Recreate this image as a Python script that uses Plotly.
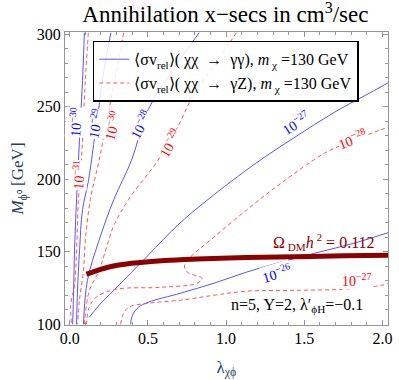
import plotly.graph_objects as go

# contour lines: lambda_chi_phi (x) and M_phi0 in GeV (y)
gg30_x = [0.094, 0.082, 0.069, 0.056, 0.044, 0.031, 0.025, 0.019]
gg30_y = [301, 268, 241, 213, 186, 151, 123, 100]
gg29_x = [0.263, 0.219, 0.176, 0.157, 0.120, 0.082, 0.063, 0.050, 0.044]
gg29_y = [301, 275, 241, 227, 199, 179, 151, 123, 100]
gg28_x = [0.828, 0.658, 0.502, 0.395, 0.282, 0.188, 0.113, 0.088]
gg28_y = [301, 275, 248, 213, 186, 158, 130, 100]
gg27_x = [0.125, 0.188, 0.282, 0.502, 0.690, 0.878, 1.190, 1.440, 1.690, 1.944, 2.06]
gg27_y = [104.8, 113.1, 123.4, 147.6, 168.3, 185.5, 211.0, 229.0, 246.0, 261.0, 268.0]
gg26_x = [0.389, 0.401, 0.439, 0.502, 0.708, 0.922, 1.129, 1.348, 1.567, 1.818, 2.06]
gg26_y = [100, 106.2, 111.7, 115.2, 121.4, 128.3, 135.9, 142.8, 149.0, 155.9, 164.0]

gz31_x = [0.119, 0.100, 0.075, 0.056, 0.044, 0.031, 0.006, 0.013]
gz31_y = [301, 268, 213, 186, 151, 127, 113, 100]
gz30_x = [0.345, 0.295, 0.238, 0.188, 0.132, 0.100, 0.088, 0.063, 0.050]
gz30_y = [301, 272, 241, 213, 186, 158, 137, 117, 100]
gz29_x = [1.066, 0.940, 0.796, 0.690, 0.564, 0.376, 0.282, 0.238, 0.188, 0.125, 0.094]
gz29_y = [301, 281, 259, 236, 213, 186, 168, 154, 137, 123, 100]
gz28_x = [2.06, 1.987, 1.787, 1.630, 1.317, 1.129, 0.897, 0.771, 0.734, 0.752, 0.846,
          0.815, 0.583, 0.295, 0.169, 0.125, 0.107]
gz28_y = [236.5, 234.0, 225.5, 218.0, 194.5, 178.6, 157.9, 146.2, 140.7, 135.9, 131.7,
          128.3, 125.5, 124.1, 118.6, 111.7, 100]
gz27_x = [0.326, 0.339, 0.376, 0.502, 0.708, 0.922, 1.129, 1.442, 1.755, 1.912, 2.06]
gz27_y = [100, 106.2, 111.7, 114.5, 116.6, 120.0, 122.8, 123.4, 124.1, 125.5, 128.3]

# relic density line Omega_DM h^2 = 0.112
relic_x = [0.107, 0.188, 0.251, 0.395, 0.608, 0.815, 1.129, 1.442, 1.755, 2.06]
relic_y = [134.5, 137.5, 139.5, 142.0, 144.0, 145.0, 146.0, 146.6, 147.2, 147.7]

# contour labels: (text, x, y, angle, colour)
labels = [
    ("10<sup>−30</sup>", 0.038, 239.3, -85, "blue"),
    ("10<sup>−31</sup>", 0.056, 202.8, -85, "red"),
    ("10<sup>−29</sup>", 0.163, 238.0, -78, "blue"),
    ("10<sup>−30</sup>", 0.268, 237.0, -75, "red"),
    ("10<sup>−28</sup>", 0.450, 237.5, -62, "blue"),
    ("10<sup>−29</sup>", 0.639, 225.0, -60, "red"),
    ("10<sup>−27</sup>", 1.442, 239.0, -32, "blue"),
    ("10<sup>−28</sup>", 1.806, 227.5, -22, "red"),
    ("10<sup>−26</sup>", 1.323, 135.2, -17, "blue"),
    ("10<sup>−27</sup>", 1.831, 130.3, 0, "red"),
]

BLUE = "rgb(85,85,255)"
RED = "rgb(255,85,85)"
SERIF = "Liberation Serif"
NB = "\u00a0"

fig = go.Figure()

blue_sets = [(gg30_x, gg30_y), (gg29_x, gg29_y), (gg28_x, gg28_y), (gg27_x, gg27_y), (gg26_x, gg26_y)]
red_sets = [(gz31_x, gz31_y), (gz30_x, gz30_y), (gz29_x, gz29_y), (gz28_x, gz28_y), (gz27_x, gz27_y)]

for i, (xs, ys) in enumerate(blue_sets):
    fig.add_trace(go.Scatter(
        x=xs, y=ys, mode="lines", line=dict(color=BLUE, width=1, shape="spline"),
        name=f"⟨σv<sub>rel</sub>⟩( χχ{NB}{NB}→{NB}{NB}γγ), <i>m</i><sub> χ</sub> =130 GeV",
        legendgroup="gg", showlegend=(i == 0)))
for i, (xs, ys) in enumerate(red_sets):
    fig.add_trace(go.Scatter(
        x=xs, y=ys, mode="lines", line=dict(color=RED, width=1, dash="4px,3px", shape="spline"),
        name=f"⟨σv<sub>rel</sub>⟩( χχ{NB}{NB}→{NB}{NB}γZ), <i>m</i><sub> χ</sub> =130 GeV",
        legendgroup="gz", showlegend=(i == 0)))

fig.add_trace(go.Scatter(x=relic_x, y=relic_y, mode="lines", showlegend=False,
                         line=dict(color="rgb(140,0,0)", width=5, shape="spline")))

for txt, lx, ly, ang, col in labels:
    fig.add_annotation(x=lx, y=ly, text=txt, showarrow=False, textangle=ang,
                       font=dict(family=SERIF, size=14, color=col),
                       bgcolor="white", borderpad=0)

fig.add_annotation(x=1.624, y=157.0, text="Ω<sub> DM</sub><i>h</i><sup> 2</sup> = 0.112",
                   showarrow=False, font=dict(family=SERIF, size=16, color="rgb(140,0,0)"))
fig.add_annotation(x=1.45, y=113.0, text="n=5, Y=2, λ′<sub>ϕH</sub>=−0.1",
                   showarrow=False, font=dict(family=SERIF, size=16, color="black"),
                   bgcolor="white")

axis_common = dict(showline=True, linecolor="rgb(150,150,150)", linewidth=1, mirror="allticks",
                   ticks="inside", ticklen=5, tickcolor="rgb(150,150,150)", showgrid=False,
                   zeroline=False, tickfont=dict(family=SERIF, size=16, color="black"))

fig.update_xaxes(range=[-0.03, 2.035], tickvals=[0, 0.5, 1.0, 1.5, 2.0],
                 ticktext=["0.0", "0.5", "1.0", "1.5", "2.0"], ticklabelstandoff=-1,
                 minor=dict(dtick=0.1, ticks="inside", ticklen=3, tickcolor="rgb(150,150,150)"),
                 title=dict(text="λ<sub>χϕ</sub>", font=dict(family=SERIF, size=17), standoff=14),
                 **axis_common)
fig.update_yaxes(range=[99.5, 301.5], tickvals=[100, 150, 200, 250, 300],
                 minor=dict(dtick=10, ticks="inside", ticklen=3, tickcolor="rgb(150,150,150)"),
                 title=dict(text="<i>M</i><sub>ϕ⁰</sub> [GeV]", font=dict(family=SERIF, size=17), standoff=8),
                 **axis_common)

fig.update_layout(
    width=399, height=380,
    margin=dict(l=65, r=7, t=32, b=55),
    paper_bgcolor="white", plot_bgcolor="white",
    title=dict(text="Annihilation x−secs in cm<sup>3</sup>/sec", x=0.565, xanchor="center",
               y=0.962, yanchor="middle", yref="container",
               font=dict(family=SERIF, size=23, color="black")),
    legend=dict(x=0.086, y=0.97, xanchor="left", yanchor="top",
                bgcolor="rgba(255,255,255,0.85)", bordercolor="black", borderwidth=1.5,
                font=dict(family=SERIF, size=16, color="black"), itemwidth=30,
                tracegroupgap=0),
    showlegend=True,
)

# the page's default 8px body margin would shift the figure, so drop it
fig.write_html("out.html", config={"displayModeBar": False},
               post_script="document.body.style.margin='0px';")
